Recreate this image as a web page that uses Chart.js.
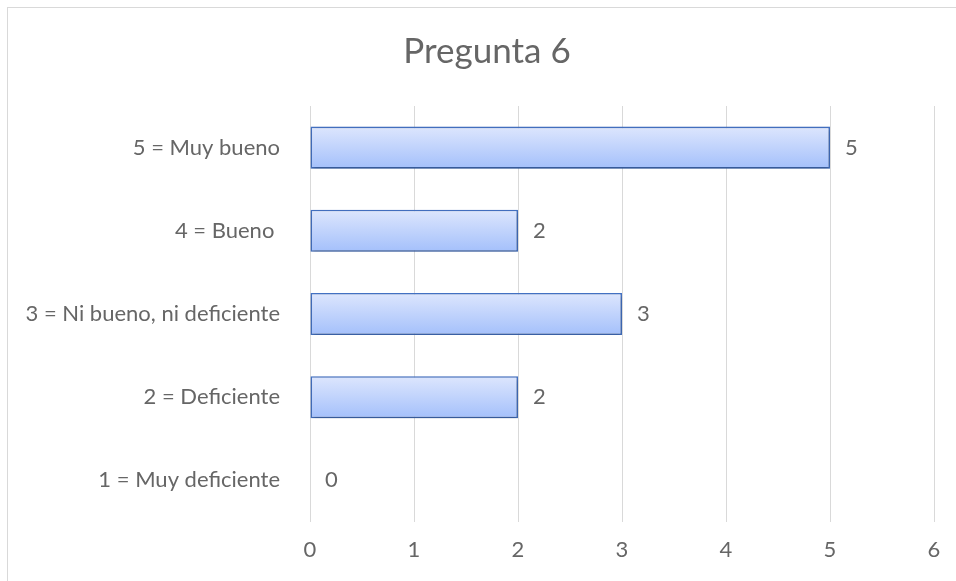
<!DOCTYPE html>
<html>
<head>
<meta charset="utf-8">
<script src="https://cdn.jsdelivr.net/npm/chart.js@4/dist/chart.umd.min.js"></script>
<style>
  html, body { margin: 0; padding: 0; background: #fff; overflow: hidden; }
  #wrap { position: relative; width: 956px; height: 581px; overflow: hidden; }
  #frame { position: absolute; left: 7px; top: 7px; width: 1100px; height: 700px; border: 1px solid #d9d9d9; box-sizing: border-box; }
  canvas { position: absolute; left: 0; top: 0; }
</style>
</head>
<body>
<div id="wrap">
  <div id="frame"></div>
  <canvas id="chart" width="974" height="600"></canvas>
</div>
<script>
// Datos de la pregunta 6
const titulo = 'Pregunta 6';
const categorias = ['5 = Muy bueno', '4 = Bueno ', '3 = Ni bueno, ni deficiente', '2 = Deficiente', '1 = Muy deficiente'];
const respuestas = [5, 2, 3, 2, 0];
const ticksX = [0, 1, 2, 3, 4, 5, 6];

const gris = '#666666';
const fuente = "Lato, 'Open Sans', sans-serif";
const anchoBarra = 0.506;

// Degradado vertical por barra, calculado desde la escala
function rellenoBarra(c) {
    const chart = c.chart;
    const y = chart.scales && chart.scales.y;
    if (!chart.chartArea || !y || c.dataIndex === undefined) return '#bcd0fc';
    const centro = y.getPixelForValue(c.dataIndex);
    const mitad = (y.bottom - y.top) / categorias.length * anchoBarra / 2;
    const g = chart.ctx.createLinearGradient(0, centro - mitad, 0, centro + mitad);
    g.addColorStop(0, '#dde6fd');
    g.addColorStop(1, '#a4c0fb');
    return g;
}

// Sombra suave debajo de las barras
const sombra = {
    id: 'sombra',
    beforeDatasetsDraw(chart) {
        const ctx = chart.ctx;
        ctx.save();
        ctx.shadowColor = 'rgba(0,0,0,0.28)';
        ctx.shadowBlur = 4;
        ctx.shadowOffsetY = 2;
        ctx.shadowOffsetX = 1;
    },
    afterDatasetsDraw(chart) {
        chart.ctx.restore();
    }
};

// Título centrado sobre todo el gráfico y etiquetas de valor
const textos = {
    id: 'textos',
    afterDraw(chart) {
        const ctx = chart.ctx;
        ctx.save();
        ctx.fillStyle = gris;
        ctx.textAlign = 'center';
        ctx.textBaseline = 'middle';
        ctx.font = '35px ' + fuente;
        ctx.fillText(titulo, 487, 52);

        ctx.font = '22px ' + fuente;
        ctx.textAlign = 'left';
        chart.getDatasetMeta(0).data.forEach((bar, i) => {
            ctx.fillText(String(respuestas[i]), bar.x + 15, bar.y);
        });
        ctx.restore();
    }
};

new Chart(document.getElementById('chart'), {
    type: 'bar',
    data: {
        labels: categorias,
        datasets: [{
            data: respuestas,
            backgroundColor: rellenoBarra,
            borderColor: '#4472c4',
            borderWidth: 1.6,
            borderSkipped: false,
            barPercentage: anchoBarra,
            categoryPercentage: 1
        }]
    },
    options: {
        indexAxis: 'y',
        responsive: false,
        animation: false,
        devicePixelRatio: 1,
        layout: { padding: { left: 0, right: 40, top: 106, bottom: 0 } },
        plugins: {
            legend: { display: false },
            tooltip: { enabled: false },
            title: { display: false }
        },
        scales: {
            x: {
                min: 0,
                max: 6,
                afterBuildTicks: s => { s.ticks = ticksX.map(v => ({ value: v })); },
                afterFit: s => { s.height = 78; },
                grid: { color: '#d9d9d9', lineWidth: 1, drawTicks: false },
                border: { display: false },
                ticks: { color: gris, padding: 15, font: { family: fuente, size: 22 } }
            },
            y: {
                afterFit: s => { s.width = 310; },
                grid: { display: false, drawTicks: false },
                border: { display: false },
                ticks: { color: gris, padding: 30, font: { family: fuente, size: 22 } }
            }
        }
    },
    plugins: [sombra, textos]
});
</script>
</body>
</html>
